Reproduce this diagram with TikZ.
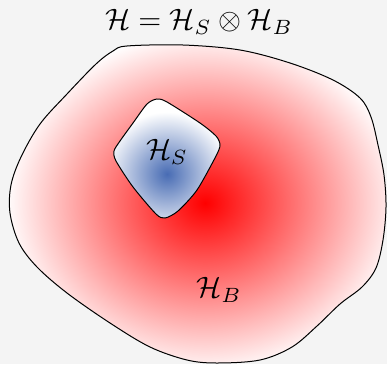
\documentclass[tikz,border=0pt]{standalone}
\usepackage{graphicx}
\definecolor{bgc}{HTML}{F4F4F4}
\definecolor{sblue}{RGB}{72,108,180}
\newcommand{\bigtxt}[1]{\scalebox{2.95}{#1}}
\begin{document}
\begin{tikzpicture}[x=1pt,y=-1pt,
  lbl/.style={inner sep=0pt},
  outline/.style={draw=black, line width=1pt}]
\fill[bgc] (0,0) rectangle (387,364);
\useasboundingbox (0,0) rectangle (387,364);
% big region
\def\bigpath{plot[smooth cycle, tension=0.55] coordinates {
 (127,46) (183,45) (240,50) (290,63) (333,80) (360,98) (371,117) (378,145) (384,175) (386,207)
 (383,240) (376,268) (362,287) (340,304) (317,326) (292,347) (260,360) (217,363) (187,360)
 (150,347) (110,323) (67,293) (37,267) (19,243) (10,213) (11,185) (21,157) (40,124) (67,94)
 (96,64) (113,51)}}
\begin{scope}
 \clip \bigpath;
 \fill[white] (0,0) rectangle (387,364);
 \shade[inner color=red, outer color=white] (205,203) ellipse [x radius=200, y radius=172];
\end{scope}
\draw[outline] \bigpath;
% small region
\def\smallpath{plot[smooth cycle, tension=0.45] coordinates {
 (147,104) (157,99) (167,102) (200,123) (216,136) (220,145) (216,156) (197,190) (178,211)
 (165,218) (156,214) (133,187) (116,161) (114,151) (120,141) (133,123)}}
\begin{scope}
 \clip \smallpath;
 \fill[white] (100,90) rectangle (230,230);
 \shade[inner color=sblue, outer color=white] (167,174) ellipse [x radius=64, y radius=62];
\end{scope}
\draw[outline] \smallpath;
\node[lbl] (title) at (199,22) {\bigtxt{$\mathcal{H}=\mathcal{H}_S\otimes\mathcal{H}_B$}};
\node[lbl] (hs) at (167,152) {\bigtxt{$\mathcal{H}_S$}};
\node[lbl] (hb) at (219,290) {\bigtxt{$\mathcal{H}_B$}};
\end{tikzpicture}
\end{document}
